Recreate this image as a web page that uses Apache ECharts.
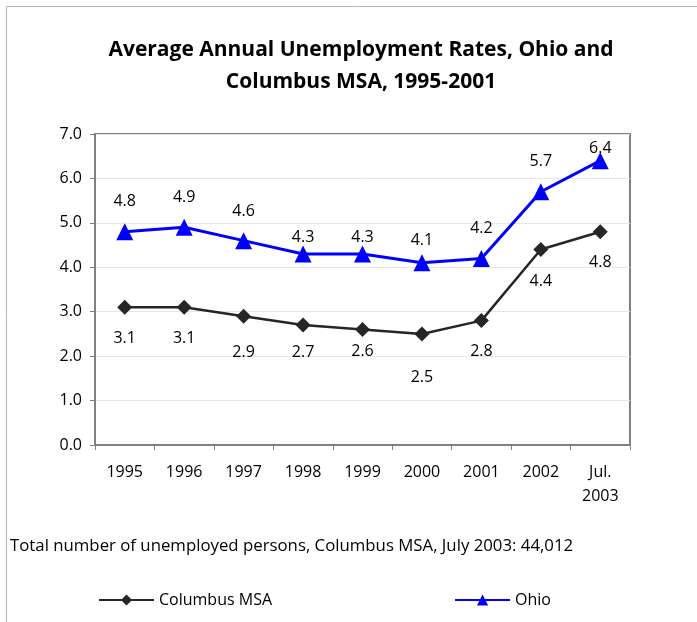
<!DOCTYPE html>
<html>
<head>
<meta charset="utf-8">
<script src="https://cdn.jsdelivr.net/npm/echarts@6/dist/echarts.min.js"></script>
<style>
  html, body { margin: 0; padding: 0; background: #fff; }
  #chart { width: 697px; height: 622px; }
</style>
</head>
<body>
<div id="chart"></div>
<script>
// Years on the category axis
const years = ['1995', '1996', '1997', '1998', '1999', '2000', '2001', '2002', 'Jul.\n2003'];
// Average annual unemployment rate (%)
const columbusRates = [3.1, 3.1, 2.9, 2.7, 2.6, 2.5, 2.8, 4.4, 4.8];
const ohioRates = [4.8, 4.9, 4.6, 4.3, 4.3, 4.1, 4.2, 5.7, 6.4];
// Value axis ticks
const yTicks = [0, 1, 2, 3, 4, 5, 6, 7];

// Hand-placed label distances (px) from each marker
const ohioLabelLift = [30, 30, 29, 17, 17, 22, 30, 30, 12];
const columbusLabelDrop = [31, 31, 36, 27, 22, 44, 31, 32, 31];

const FONT = 'Open Sans';

function labelled(values, shifts, dir) {
  return values.map((v, i) => ({
    value: v,
    label: { offset: [0, dir * shifts[i]] }
  }));
}

const chart = echarts.init(document.getElementById('chart'));
chart.setOption({
  backgroundColor: '#ffffff',
  animation: false,
  textStyle: { fontFamily: FONT },
  title: {
    text: 'Average Annual Unemployment Rates, Ohio and\nColumbus MSA, 1995-2001',
    left: 356,
    top: 29,
    textAlign: 'center',
    textStyle: {
      fontFamily: FONT,
      fontSize: 21,
      fontWeight: 'bold',
      color: '#000',
      lineHeight: 32
    }
  },
  grid: {
    left: 95, right: 67, top: 134, bottom: 177,
    show: true,
    borderColor: '#808080',
    borderWidth: 2,
    backgroundColor: '#fff'
  },
  legend: {
    left: 93,
    top: 587,
    itemWidth: 55,
    itemHeight: 14,
    itemGap: 182,
    textStyle: { fontFamily: FONT, fontSize: 16, color: '#000' },
    data: ['Columbus MSA', 'Ohio']
  },
  xAxis: {
    type: 'category',
    data: years,
    boundaryGap: true,
    axisLine: { lineStyle: { color: '#808080', width: 2 } },
    axisTick: { show: true, length: 5, lineStyle: { color: '#808080' } },
    axisLabel: {
      color: '#000',
      fontFamily: FONT,
      fontSize: 16,
      margin: 15,
      lineHeight: 24
    }
  },
  yAxis: {
    type: 'value',
    min: yTicks[0],
    max: yTicks[yTicks.length - 1],
    interval: 1,
    axisLine: { show: true, lineStyle: { color: '#808080', width: 2 } },
    axisTick: { show: true, length: 5, lineStyle: { color: '#808080' } },
    splitLine: { show: true, lineStyle: { color: '#e6e6e6', width: 1 } },
    axisLabel: {
      color: '#000',
      fontFamily: FONT,
      fontSize: 16,
      margin: 13,
      formatter: v => v.toFixed(1)
    }
  },
  graphic: [
    {
      type: 'rect',
      shape: { x: 6.5, y: 6.5, width: 720, height: 720 },
      style: { fill: 'none', stroke: '#b4b4b4', lineWidth: 1 },
      silent: true,
      z: -10
    },
    {
      type: 'text',
      left: 10,
      top: 538,
      style: {
        text: 'Total number of unemployed persons, Columbus MSA, July 2003: 44,012',
        fontFamily: FONT,
        fontSize: 16.8,
        fill: '#000'
      }
    }
  ],
  series: [
    {
      name: 'Columbus MSA',
      type: 'line',
      data: labelled(columbusRates, columbusLabelDrop, 1),
      symbol: 'diamond',
      symbolSize: 15,
      itemStyle: { color: '#262626' },
      lineStyle: { color: '#262626', width: 2.5 },
      label: {
        show: true,
        position: 'inside',
        color: '#000',
        fontFamily: FONT,
        fontSize: 16,
        formatter: p => p.value.toFixed(1)
      },
      z: 3
    },
    {
      name: 'Ohio',
      type: 'line',
      data: labelled(ohioRates, ohioLabelLift, -1),
      symbol: 'triangle',
      symbolSize: 17,
      itemStyle: { color: '#0000ff' },
      lineStyle: { color: '#0000ff', width: 3 },
      label: {
        show: true,
        position: 'inside',
        color: '#000',
        fontFamily: FONT,
        fontSize: 16,
        formatter: p => p.value.toFixed(1)
      },
      z: 4
    }
  ]
});
</script>
</body>
</html>
